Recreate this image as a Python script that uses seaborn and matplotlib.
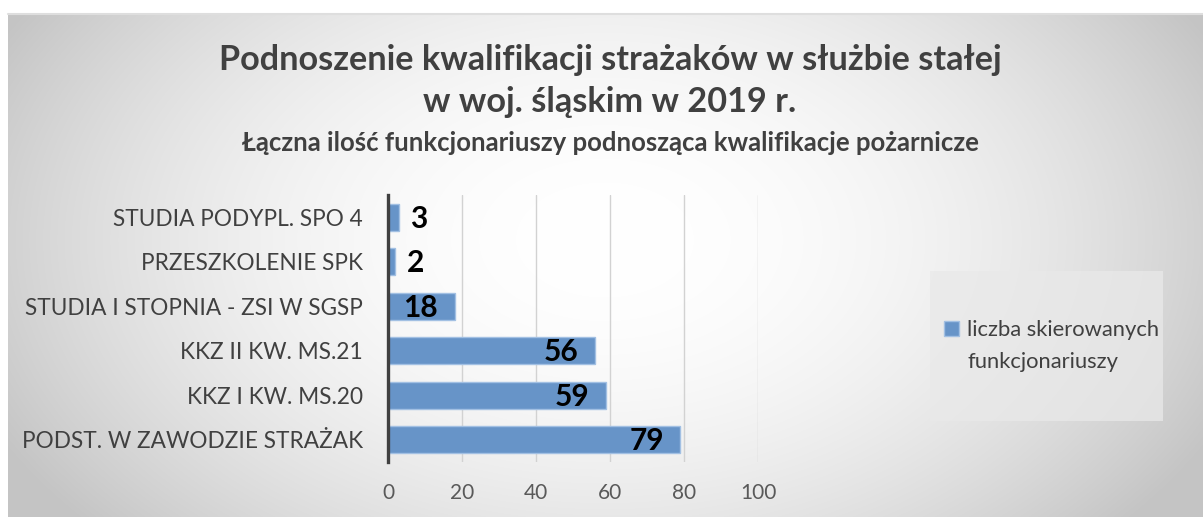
import numpy as np
import pandas as pd
import matplotlib
matplotlib.use("Agg")
import matplotlib.pyplot as plt
from matplotlib.patches import Rectangle
from matplotlib.lines import Line2D
import seaborn as sns

# ---- data ----
categories = [
    "STUDIA PODYPL. SPO 4",
    "PRZESZKOLENIE SPK",
    "STUDIA I STOPNIA - ZSI W SGSP",
    "KKZ II KW. MS.21",
    "KKZ I KW. MS.20",
    "PODST. W ZAWODZIE STRAŻAK",
]
values = [3, 2, 18, 56, 59, 79]
series_name = "liczba skierowanych funkcjonariuszy"
x_ticks = [0, 20, 40, 60, 80, 100]
title_line1 = "Podnoszenie kwalifikacji strażaków w służbie stałej"
title_line2 = "w woj. śląskim w 2019 r."
subtitle = "Łączna ilość funkcjonariuszy podnosząca kwalifikacje pożarnicze"

df = pd.DataFrame({"kategoria": categories, "wartosc": values})

sns.set_theme(style="white")
plt.rcParams["font.family"] = ["Lato", "DejaVu Sans"]

W, H = 1203, 517
fig = plt.figure(figsize=(W / 100, H / 100), dpi=100)
fig.patch.set_facecolor("white")

# ---- radial gradient background ----
bx0, by0 = 8, 14
bg = fig.add_axes([bx0 / W, 0, (W - bx0) / W, (H - by0) / H], zorder=-5)
xs = np.arange(bx0, W) + 0.5
ys = np.arange(by0, H) + 0.5
X, Y = np.meshgrid(xs, ys)
r2 = ((X - 605) / 650) ** 2 + ((Y - 240) / 420) ** 2
r2 = np.clip(r2, 0, 1.1)
g = 1 - 0.21 * r2
img = np.dstack([g, g, g])
bg.imshow(img, aspect="auto", interpolation="bilinear")
bg.set_axis_off()
fig.add_artist(Line2D([bx0 / W, 1], [1 - 13.5 / H, 1 - 13.5 / H],
                      transform=fig.transFigure, color="#dedede", lw=1.5))

# ---- main axes ----
ax_l, ax_r, ax_t, ax_b = 388, 758, 195, 462
ax = fig.add_axes([ax_l / W, 1 - ax_b / H, (ax_r - ax_l) / W, (ax_b - ax_t) / H])
ax.set_facecolor("none")

sns.barplot(data=df, x="wartosc", y="kategoria", orient="h", ax=ax,
            color="#6794c8", edgecolor="#a2c0e3", linewidth=1.0,
            width=0.6, saturation=1, label=series_name, zorder=3)
if ax.get_legend() is not None:
    ax.get_legend().remove()

ax.set_xlim(0, 100)
ax.set_ylim(5.5, -0.5)
ax.set_xticks(x_ticks)
ax.set_xticklabels([str(t) for t in x_ticks])
ax.set_xlabel("")
ax.set_ylabel("")
ax.xaxis.grid(True, color="#d2d2d2", linewidth=1.0, zorder=0)
ax.yaxis.grid(False)
for s in ["top", "right", "bottom"]:
    ax.spines[s].set_visible(False)
ax.spines["left"].set_color("#404040")
ax.spines["left"].set_linewidth(2.4)
ax.spines["left"].set_zorder(5)
ax.tick_params(axis="y", length=0, pad=18, labelsize=16.3, labelcolor="#404040")
ax.tick_params(axis="x", length=0, pad=15, labelsize=15, labelcolor="#595959")

# ---- data labels ----
for i, v in enumerate(values):
    if v < 10:
        ax.annotate(str(v), (v, i), xytext=(8, -1), textcoords="offset points",
                    ha="left", va="center", fontsize=21.5, fontweight="bold",
                    color="black", zorder=6)
    else:
        ax.annotate(str(v), (v, i), xytext=(-12, -1), textcoords="offset points",
                    ha="right", va="center", fontsize=21.5, fontweight="bold",
                    color="black", zorder=6)

# ---- titles ----
fig.text(610 / W, 1 - 60 / H, title_line1, ha="center", va="center",
         fontsize=24.7, fontweight="bold", color="#404040")
fig.text(610 / W, 1 - 102 / H, title_line2, ha="center", va="center",
         fontsize=24.7, fontweight="bold", color="#404040")
fig.text(610 / W, 1 - 143 / H, subtitle, ha="center", va="center",
         fontsize=18.5, fontweight="bold", color="#404040")

# ---- legend ----
fig.add_artist(Rectangle((930 / W, 1 - 421 / H), (1163 - 930) / W, (421 - 271) / H,
                         transform=fig.transFigure, facecolor="#e9e9e9",
                         edgecolor="none", alpha=0.75, zorder=1))
handles = ax.containers[0][:1]
leg = fig.legend(handles, ["liczba skierowanych"],
                 loc="center left", bbox_to_anchor=(944 / W, 1 - 330 / H),
                 frameon=False, fontsize=15.8, handlelength=0.7, handleheight=0.7,
                 handletextpad=0.35, borderpad=0, borderaxespad=0)
for t in leg.get_texts():
    t.set_color("#404040")
fig.canvas.draw()
tb = leg.get_texts()[0].get_window_extent()
fig.text(tb.x0 / W, (tb.y0 + tb.y1) / 2 / H - 32 / H, "funkcjonariuszy",
         ha="left", va="center", fontsize=15.8, color="#404040")

fig.savefig("out.png", dpi=100)
